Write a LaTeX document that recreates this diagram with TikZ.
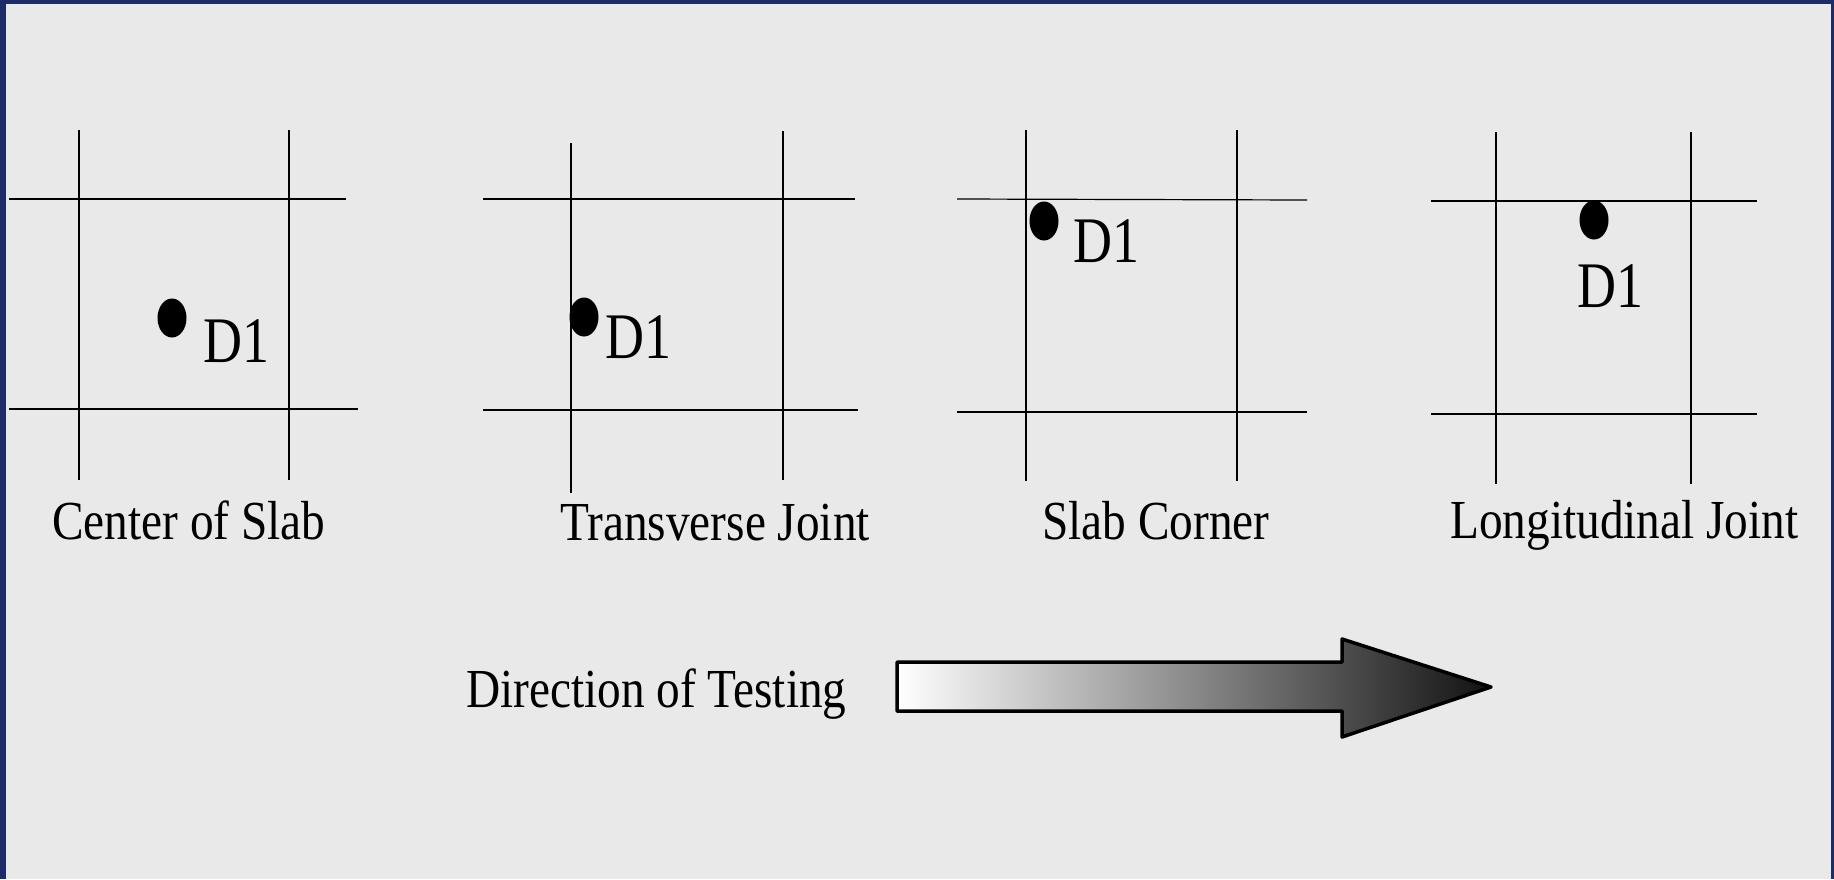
\documentclass[tikz,border=0pt]{standalone}
\usepackage{fontspec}
\setmainfont{Liberation Serif}
\newfontfamily\lblfont[FakeStretch=0.86]{Liberation Serif}
\newfontfamily\dfont[FakeStretch=0.83]{Liberation Serif}
\usetikzlibrary{shapes.geometric}
\definecolor{bg}{RGB}{233,233,233}
\definecolor{navy}{RGB}{29,43,104}
\begin{document}
\begin{tikzpicture}[x=1pt,y=-1pt,
  grid/.style={line width=1.2pt, black},
  dot/.style={ellipse, fill=black, minimum width=29pt, minimum height=39pt, inner sep=0pt},
  dlabel/.style={anchor=base west, inner sep=0pt, font=\dfont\fontsize{65}{65}\selectfont},
  plabel/.style={anchor=base west, inner sep=0pt, font=\lblfont\fontsize{55}{55}\selectfont}]
\useasboundingbox (0,0) rectangle (1834,879);
\fill[navy] (0,0) rectangle (1834,879);
\fill[bg] (6,4) rectangle (1831,879);

% Panel 1: Center of Slab
\draw[grid] (79,130) -- (79,480);
\draw[grid] (289,130) -- (289,480);
\draw[grid] (9,199) -- (346,199);
\draw[grid] (9,409) -- (358,409);
\node[dot] (p1dot) at (172,318) {};
\node[dlabel] (p1d) at (203,362) {D1};
\node[plabel] (p1l) at (52,539) {Center of Slab};

% Panel 2: Transverse Joint
\draw[grid] (571,143) -- (571,493);
\draw[grid] (783,131) -- (783,480);
\draw[grid] (483,199) -- (855,199);
\draw[grid] (483,410) -- (858,410);
\node[dot] (p2dot) at (584,317) {};
\node[dlabel] (p2d) at (605,358) {D1};
\node[plabel] (p2l) at (560,540) {Transverse Joint};

% Panel 3: Slab Corner
\draw[grid] (1026,130) -- (1026,481);
\draw[grid] (1237,130) -- (1237,481);
\draw[grid] (957,199) -- (1307,200);
\draw[grid] (957,412) -- (1307,412);
\node[dot] (p3dot) at (1044,221) {};
\node[dlabel] (p3d) at (1073,262) {D1};
\node[plabel] (p3l) at (1042,539) {Slab Corner};

% Panel 4: Longitudinal Joint
\draw[grid] (1496,132) -- (1496,484);
\draw[grid] (1691,132) -- (1691,484);
\draw[grid] (1431,201) -- (1757,201);
\draw[grid] (1431,414) -- (1757,414);
\node[dot] (p4dot) at (1594,220) {};
\node[dlabel] (p4d) at (1577,307) {D1};
\node[plabel] (p4l) at (1450,538) {Longitudinal Joint};

% Direction of testing
\node[plabel] (dir) at (466,707) {Direction of Testing};
\shade[left color=white, middle color=black!30, right color=black!93, draw=black, line width=3.5pt, line join=round]
  (897,662) -- (1342,662) -- (1342,639) -- (1491,687) -- (1342,737) -- (1342,711) -- (897,711) -- cycle;
\end{tikzpicture}
\end{document}
